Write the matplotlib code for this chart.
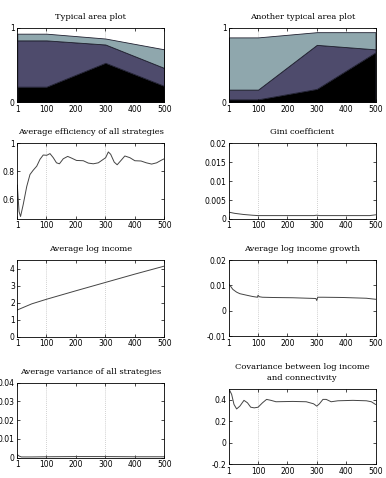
import matplotlib
matplotlib.use("Agg")
import matplotlib.pyplot as plt
import numpy as np

# ---------------- data ----------------
area_x = [1, 100, 300, 500]
area1_black = [0.21, 0.21, 0.53, 0.22]
area1_purple = [0.62, 0.62, 0.245, 0.24]
area1_light = [0.09, 0.09, 0.08, 0.25]
area2_black = [0.04, 0.04, 0.18, 0.67]
area2_purple = [0.13, 0.13, 0.59, 0.04]
area2_light = [0.70, 0.70, 0.17, 0.23]

eff_x = [1, 7, 12, 21, 33, 44, 55, 67, 78, 89, 101, 112, 123, 134, 144, 157, 172, 185,
         202, 225, 242, 259, 276, 293, 301, 310, 318, 330, 340, 353, 366, 383, 400, 421,
         439, 457, 474, 491, 500]
eff_y = [0.70, 0.51, 0.475, 0.56, 0.69, 0.776, 0.807, 0.836, 0.885, 0.916, 0.914, 0.926,
         0.897, 0.86, 0.853, 0.889, 0.906, 0.894, 0.877, 0.875, 0.858, 0.853, 0.86, 0.885,
         0.897, 0.938, 0.921, 0.865, 0.846, 0.877, 0.909, 0.897, 0.875, 0.873, 0.86, 0.851,
         0.86, 0.88, 0.889]

gini_x = [1, 20, 50, 80, 100, 200, 290, 300, 310, 400, 480, 500]
gini_y = [0.0018, 0.0015, 0.0012, 0.0010, 0.0009, 0.0009, 0.0009, 0.0010, 0.0009, 0.0009, 0.0009, 0.0011]

loginc_x = [1, 20, 50, 100, 200, 300, 400, 500]
loginc_y = [1.56, 1.70, 1.92, 2.19, 2.69, 3.18, 3.67, 4.14]

growth_x = [1, 6, 14, 27, 38, 61, 81, 98, 100, 104, 115, 150, 218, 297, 300, 303, 321, 389, 469, 500]
growth_y = [0.0104, 0.0097, 0.0084, 0.0073, 0.0067, 0.0061, 0.0056, 0.0053, 0.0061, 0.0055,
            0.0053, 0.0052, 0.0051, 0.0048, 0.0040, 0.0053, 0.0053, 0.0052, 0.0049, 0.0045]

var_x = [1, 8, 15, 50, 100, 200, 300, 400, 500]
var_y = [0.0016, 0.0008, 0.0004, 0.0004, 0.0005, 0.0006, 0.0006, 0.0005, 0.0005]

cov_x = [1, 10, 18, 27, 38, 52, 64, 75, 87, 100, 115, 129, 144, 161, 218, 264, 289, 300,
         309, 321, 332, 349, 372, 423, 469, 486, 500]
cov_y = [0.50, 0.45, 0.356, 0.314, 0.34, 0.394, 0.371, 0.33, 0.324, 0.33, 0.371, 0.403,
         0.394, 0.381, 0.384, 0.381, 0.362, 0.34, 0.362, 0.403, 0.403, 0.381, 0.39, 0.394,
         0.39, 0.381, 0.356]

xticks = [1, 100, 200, 300, 400, 500]
grid_x = [100, 300]

titles = ["Typical area plot", "Another typical area plot",
          "Average efficiency of all strategies", "Gini coefficient",
          "Average log income", "Average log income growth",
          "Average variance of all strategies",
          "Covariance between log income\nand connectivity"]

# ---------------- figure ----------------
W, H = 386, 478
fig = plt.figure(figsize=(W / 100, H / 100), dpi=100)

def rect(left_px, top_px, right_px, bottom_px):
    return [left_px / W, 1 - bottom_px / H, (right_px - left_px) / W, (bottom_px - top_px) / H]

L = (17.3, 164.3)
R = (229.0, 375.5)
rects = [
    rect(L[0], 27.7, L[1], 102.3), rect(R[0], 27.7, R[1], 102.3),
    rect(L[0], 143.3, L[1], 219.0), rect(R[0], 143.3, R[1], 219.0),
    rect(L[0], 260.0, L[1], 336.5), rect(R[0], 260.0, R[1], 336.0),
    rect(L[0], 382.7, L[1], 457.7), rect(R[0], 389.0, R[1], 464.0),
]

TICKFONT = dict(family="DejaVu Sans", size=5.5)
TITLEFONT = dict(family="DejaVu Serif", size=6.0)
LINECOL = "#444444"
C_BLACK = "#000000"
C_PURPLE = "#4e4b6c"
C_LIGHT = "#8fa7ad"

axes = []
for i, r in enumerate(rects):
    ax = fig.add_axes(r)
    axes.append(ax)
    ax.set_xlim(1, 500)
    ax.set_xticks(xticks)
    ax.set_xticklabels([str(t) for t in xticks], **TICKFONT)
    ax.tick_params(direction="in", top=True, right=True, length=2, width=0.5, pad=1.8,
                   labelsize=5.5)
    for s in ax.spines.values():
        s.set_linewidth(0.6)
    for gx in grid_x:
        ax.axvline(gx, color="#aaaaaa", lw=0.5, ls=(0, (1, 1.8)), zorder=0.5)
    ax.set_title(titles[i], fontdict=TITLEFONT, pad=6.5, linespacing=1.45)

def area(ax, b, p, l):
    ax.stackplot(area_x, b, p, l, colors=[C_BLACK, C_PURPLE, C_LIGHT],
                 edgecolor="#202030", linewidth=0.6, zorder=1)
    ax.set_ylim(0, 1)
    ax.set_yticks([0, 1])
    ax.set_yticklabels(["0", "1"], **TICKFONT)

area(axes[0], area1_black, area1_purple, area1_light)
area(axes[1], area2_black, area2_purple, area2_light)

def line(ax, x, y, ylim, yticks, ylabels):
    ax.plot(x, y, color=LINECOL, lw=0.7, zorder=2)
    ax.set_ylim(*ylim)
    ax.set_yticks(yticks)
    ax.set_yticklabels(ylabels, **TICKFONT)

line(axes[2], eff_x, eff_y, (0.457, 1.0), [0.6, 0.8, 1.0], ["0.6", "0.8", "1"])
line(axes[3], gini_x, gini_y, (0, 0.02), [0, 0.005, 0.01, 0.015, 0.02],
     ["0", "0.005", "0.01", "0.015", "0.02"])
line(axes[4], loginc_x, loginc_y, (0, 4.5), [0, 1, 2, 3, 4], ["0", "1", "2", "3", "4"])
line(axes[5], growth_x, growth_y, (-0.01, 0.02), [-0.01, 0, 0.01, 0.02],
     ["-0.01", "0", "0.01", "0.02"])
line(axes[6], var_x, var_y, (0, 0.04), [0, 0.01, 0.02, 0.03, 0.04],
     ["0", "0.01", "0.02", "0.03", "0.04"])
line(axes[7], cov_x, cov_y, (-0.2, 0.5), [-0.2, 0, 0.2, 0.4], ["-0.2", "0", "0.2", "0.4"])

fig.savefig("out.png", dpi=100)
